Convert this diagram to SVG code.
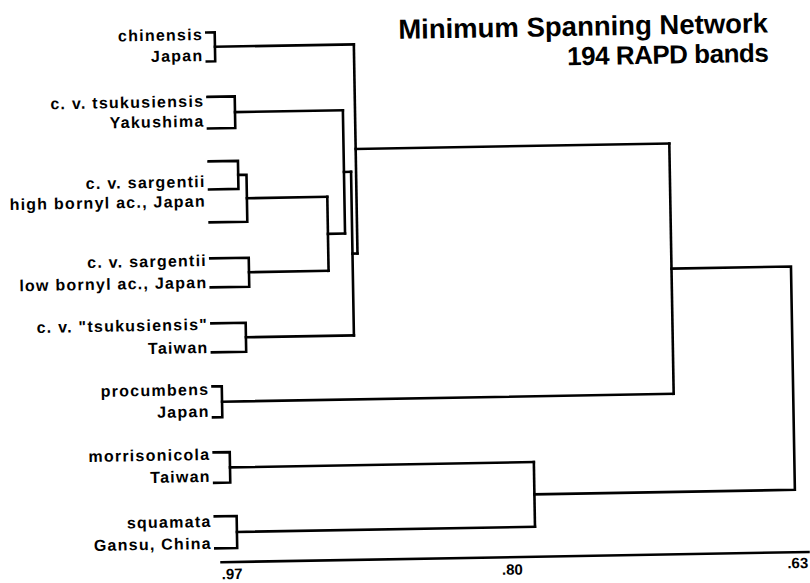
<svg xmlns="http://www.w3.org/2000/svg" width="810" height="583" viewBox="0 0 810 583">
<style>
.ln{fill:none;stroke:#000;stroke-width:2.6;stroke-linejoin:miter;stroke-linecap:square}
.lb{font-family:"Liberation Sans",Arial,sans-serif;font-weight:bold;font-size:16px;letter-spacing:1.25px;fill:#000;text-anchor:end}
.ax{font-family:"Liberation Sans",Arial,sans-serif;font-weight:bold;font-size:15px;fill:#000}
.tt{font-family:"Liberation Sans",Arial,sans-serif;font-weight:bold;fill:#000;text-anchor:end}
</style>
<rect width="810" height="583" fill="#fff"/>
<g transform="rotate(-1 405 300)">
<g id="title">
<text class="tt" x="772.7" y="38.8" font-size="27.5">Minimum Spanning Network</text>
<text class="tt" x="772.5" y="68.1" font-size="26" letter-spacing="-0.5">194 RAPD bands</text>
</g>
<g id="leaf-chinensis"><text class="lb" x="207.7" y="36.5">chinensis</text><text class="lb" x="207.7" y="57.5">Japan</text></g>
<g id="leaf-tsukusiensis-yakushima"><text class="lb" x="207.7" y="103.2">c. v. tsukusiensis</text><text class="lb" x="207.7" y="123.2">Yakushima</text></g>
<g id="leaf-sargentii-high"><text class="lb" x="207.7" y="183.5">c. v. sargentii</text><text class="lb" x="207.7" y="203.2">high bornyl ac., Japan</text></g>
<g id="leaf-sargentii-low"><text class="lb" x="207.7" y="262.5">c. v. sargentii</text><text class="lb" x="207.7" y="284.5">low bornyl ac., Japan</text></g>
<g id="leaf-tsukusiensis-taiwan"><text class="lb" x="207.7" y="326.5">c. v. "tsukusiensis"</text><text class="lb" x="207.7" y="349.5">Taiwan</text></g>
<g id="leaf-procumbens"><text class="lb" x="207.7" y="391.5">procumbens</text><text class="lb" x="207.7" y="413.5">Japan</text></g>
<g id="leaf-morrisonicola"><text class="lb" x="207.7" y="456.5">morrisonicola</text><text class="lb" x="207.7" y="478.5">Taiwan</text></g>
<g id="leaf-squamata"><text class="lb" x="207.7" y="523.5">squamata</text><text class="lb" x="207.7" y="545.5">Gansu, China</text></g>
<g id="connectors" class="ln">
<polyline points="211,29 219.4,29 219.4,58 211,58"/>
<polyline points="219.4,43.5 358.3,43.5"/>
<polyline points="211,93.5 238.3,93.5 238.3,125 211,125"/>
<polyline points="238.3,109.2 346.2,109.2"/>
<polyline points="211,158 240.4,158 240.4,186 211,186"/>
<polyline points="240.4,172 248.7,172 248.7,219 211,219"/>
<polyline points="248.7,195.5 329.1,195.5"/>
<polyline points="211,255 249.5,255 249.5,284 211,284"/>
<polyline points="249.5,269.5 329.1,269.5"/>
<polyline points="329.1,195.5 329.1,269.5"/>
<polyline points="329.1,232.5 346.2,232.5"/>
<polyline points="346.2,109.2 346.2,232.5"/>
<polyline points="346.2,170.9 353.3,170.9"/>
<polyline points="211,320 245.3,320 245.3,349 211,349"/>
<polyline points="245.3,334.5 353.3,334.5"/>
<polyline points="353.3,170.9 353.3,334.5"/>
<polyline points="353.3,252.7 358.3,252.7"/>
<polyline points="358.3,43.5 358.3,252.7"/>
<polyline points="358.3,148.1 672,148.1"/>
<polyline points="211,383 220.3,383 220.3,414 211,414"/>
<polyline points="220.3,398.5 672,398.5"/>
<polyline points="672,148.1 672,398.5"/>
<polyline points="672,273.3 791.5,273.3 791.5,496.6 531,496.6"/>
<polyline points="211,449 227.1,449 227.1,479.5 211,479.5"/>
<polyline points="227.1,464.3 531,464.3"/>
<polyline points="211,513 232.9,513 232.9,545 211,545"/>
<polyline points="232.9,529 531,529"/>
<polyline points="531,464.3 531,529"/>
</g>
<g id="axis">
<line class="ln" x1="217" y1="559" x2="804" y2="559"/>
<text class="ax" x="217" y="576">.97</text>
<text class="ax" x="507.7" y="576.5" text-anchor="middle">.80</text>
<text class="ax" x="803.5" y="575" text-anchor="end">.63</text>
</g>
</g>
</svg>
